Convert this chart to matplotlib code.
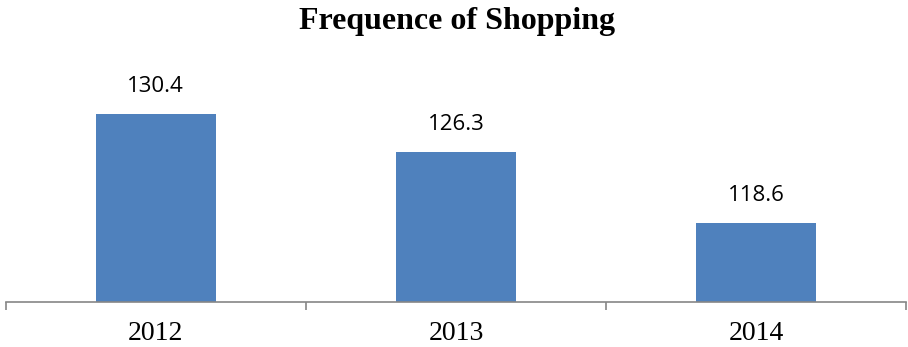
import matplotlib.pyplot as plt

years = ["2012", "2013", "2014"]
values = [130.4, 126.3, 118.6]

bar_color = "#4F81BD"
axis_color = "#868686"

fig = plt.figure(figsize=(9.08, 3.47), dpi=100)
ax = fig.add_axes([5.5 / 908, 1 - 302 / 347, 901 / 908, (302 - 71.6) / 347])

x = list(range(len(years)))
bars = ax.bar(x, values, width=0.4, color=bar_color, zorder=2)

ax.set_xlim(-0.5, len(years) - 0.5)
ax.set_ylim(110, 135)

# value labels above each bar
for xi, v in zip(x, values):
    ax.annotate(f"{v}", (xi, v), xytext=(0, 12), textcoords="offset points",
                ha="center", va="bottom", family="Open Sans", fontsize=16,
                color="#000000")

# category boundaries carry the tick marks, labels sit between them
ax.set_xticks([i - 0.5 for i in range(len(years) + 1)])
ax.set_xticklabels([])
ax.set_xticks(x, minor=True)
ax.set_xticklabels(years, minor=True, family="Liberation Serif", fontsize=20)
ax.tick_params(axis="x", which="major", length=6, width=1.2, color=axis_color, direction="out")
ax.tick_params(axis="x", which="minor", length=0, pad=14)

ax.set_yticks([])
for side in ("left", "right", "top"):
    ax.spines[side].set_visible(False)
ax.spines["bottom"].set_color(axis_color)
ax.spines["bottom"].set_linewidth(1.2)

fig.text(0.503, 0.98, "Frequence of Shopping", ha="center", va="top",
         family="Liberation Serif", fontweight="bold", fontsize=23)

fig.savefig("out.png", dpi=100)
